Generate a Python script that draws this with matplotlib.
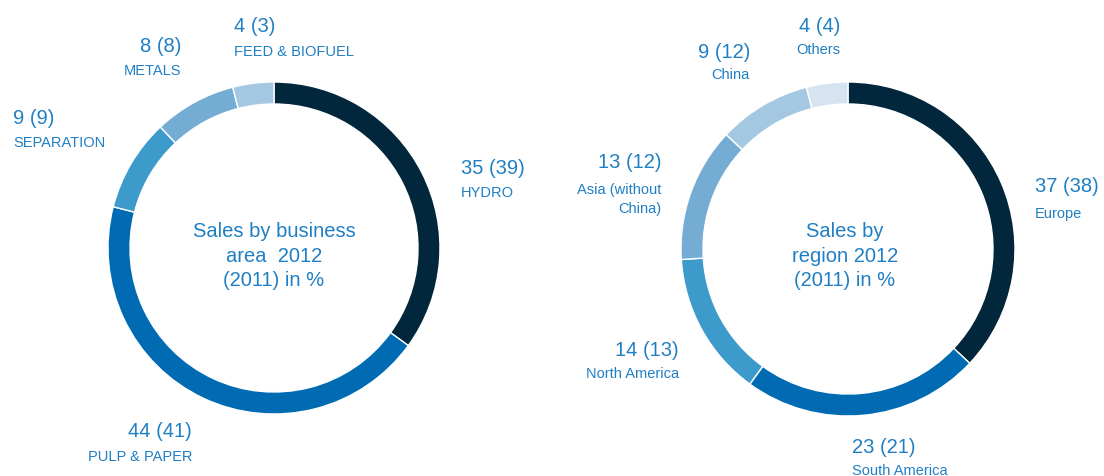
import matplotlib.pyplot as plt

# Sales by business area 2012 (2011) in %
area_names = ["HYDRO", "PULP & PAPER", "SEPARATION", "METALS", "FEED & BIOFUEL"]
area_2012 = [35, 44, 9, 8, 4]
area_2011 = [39, 41, 9, 8, 3]

# Sales by region 2012 (2011) in %
region_names = ["Europe", "South America", "North America", "Asia (without\nChina)", "China", "Others"]
region_2012 = [37, 23, 14, 13, 9, 4]
region_2011 = [38, 21, 13, 12, 12, 4]

area_colors = ["#02273d", "#006bb3", "#3d9bcc", "#74acd4", "#a5c8e2"]
region_colors = ["#02273d", "#006bb3", "#3d9bcc", "#74acd4", "#a5c8e2", "#d6e4f1"]
txt_color = "#1f7fc4"

W, H = 1104, 477
plt.rcParams['font.family'] = ['Liberation Sans', 'DejaVu Sans']

fig = plt.figure(figsize=(W / 100, H / 100), dpi=100)
ax = fig.add_axes([0, 0, 1, 1])

wp = dict(width=22, edgecolor="white", linewidth=1)
ax.pie(area_2012, colors=area_colors, startangle=90, counterclock=False,
       center=(274, H - 249), radius=166, wedgeprops=wp)
ax.pie(region_2012, colors=region_colors, startangle=90, counterclock=False,
       center=(848, H - 250), radius=167, wedgeprops=wp)

ax.set_xlim(0, W)
ax.set_ylim(0, H)
ax.set_aspect('equal')
ax.axis('off')


def label(x, y, val, prev, name, ha, gap=25):
    ax.text(x, H - y, f"{val} ({prev})", ha=ha, va='center', fontsize=14.5, color=txt_color)
    ax.text(x, H - y - gap, name.split("\n")[0], ha=ha, va='center', fontsize=10.5, color=txt_color)
    for i, extra in enumerate(name.split("\n")[1:]):
        ax.text(x, H - y - gap - 19 * (i + 1), extra, ha=ha, va='center', fontsize=10.5, color=txt_color)


# label anchor positions (pixels from top-left) and alignment
area_pos = [(461, 168, 'left'), (192, 432, 'right'), (13, 118, 'left'),
            (181, 46, 'right'), (234, 27, 'left')]
for (x, y, ha), v, p, n in zip(area_pos, area_2012, area_2011, area_names):
    label(x, y, v, p, n, ha)

region_pos = [(1035, 187, 'left'), (852, 448, 'left'), (679, 351, 'right'),
              (661, 163, 'right'), (750, 52, 'right'), (840, 27, 'right')]
region_gaps = [27, 23, 23, 27, 23, 23]
for (x, y, ha), v, p, n, g in zip(region_pos, region_2012, region_2011, region_names, region_gaps):
    label(x, y, v, p, n, ha, gap=g)

ax.text(274, H - 256, "Sales by business\narea  2012\n(2011) in %", ha='center', va='center',
        fontsize=14.5, color=txt_color, linespacing=1.38)
ax.text(845, H - 256, "Sales by\nregion 2012\n(2011) in %", ha='center', va='center',
        fontsize=14.5, color=txt_color, linespacing=1.38)

fig.savefig("out.png", dpi=100)
